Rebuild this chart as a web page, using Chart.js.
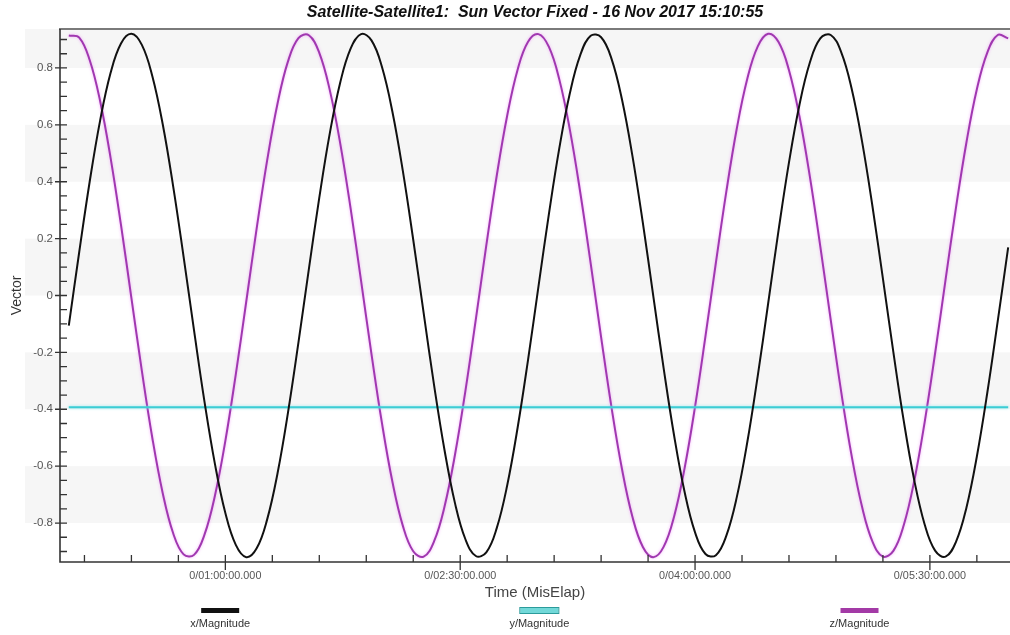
<!DOCTYPE html>
<html><head><meta charset="utf-8">
<style>html,body{margin:0;padding:0;background:#fff}#wrap{width:1010px;height:635px}</style>
<script src="https://cdn.jsdelivr.net/npm/chart.js@4.4.1/dist/chart.umd.min.js"></script>
</head><body><div id="wrap"><canvas id="c" width="1010" height="635"></canvas></div>
<script>
const chartTitle = 'Satellite-Satellite1:  Sun Vector Fixed - 16 Nov 2017 15:10:55';
const xAxisTitle = 'Time (MisElap)';
const yAxisTitle = 'Vector';
const seriesLabels = ['x/Magnitude', 'y/Magnitude', 'z/Magnitude'];

// elapsed time in minutes
const timeMinutes = [0,4,8,12,16,20,24,28,32,36,40,44,48,52,56,60,64,68,72,76,80,84,88,92,96,100,104,108,112,116,120,124,128,132,136,140,144,148,152,156,160,164,168,172,176,180,184,188,192,196,200,204,208,212,216,220,224,228,232,236,240,244,248,252,256,260,264,268,272,276,280,284,288,292,296,300,304,308,312,316,320,324,328,332,336,340,344,348,352,356,360];
const xMagnitude = [-0.106,0.153,0.400,0.615,0.782,0.886,0.920,0.881,0.772,0.602,0.384,0.136,-0.123,-0.373,-0.592,-0.765,-0.877,-0.920,-0.889,-0.788,-0.625,-0.412,-0.166,0.093,0.344,0.569,0.748,0.868,0.919,0.897,0.804,0.647,0.439,0.196,-0.062,-0.316,-0.544,-0.730,-0.857,-0.916,-0.903,-0.818,-0.668,-0.465,-0.226,0.032,0.287,0.519,0.710,0.845,0.913,0.908,0.832,0.689,0.491,0.255,-0.002,-0.258,-0.494,-0.691,-0.833,-0.909,-0.913,-0.844,-0.709,-0.517,-0.284,-0.029,0.229,0.468,0.670,0.819,0.904,0.916,0.856,0.728,0.542,0.313,0.059,-0.199,-0.442,-0.649,-0.805,-0.897,-0.918,-0.866,-0.746,-0.566,-0.342,-0.090,0.169];
const zMagnitude = [0.914,0.907,0.828,0.684,0.485,0.248,-0.009,-0.265,-0.500,-0.695,-0.836,-0.910,-0.912,-0.841,-0.704,-0.511,-0.277,-0.022,0.236,0.474,0.675,0.823,0.905,0.915,0.853,0.723,0.536,0.306,0.052,-0.206,-0.448,-0.654,-0.809,-0.899,-0.918,-0.864,-0.742,-0.560,-0.335,-0.083,0.176,0.421,0.632,0.794,0.892,0.919,0.874,0.759,0.584,0.363,0.113,-0.146,-0.394,-0.610,-0.778,-0.884,-0.920,-0.883,-0.776,-0.607,-0.391,-0.143,0.116,0.366,0.587,0.761,0.875,0.920,0.891,0.792,0.630,0.418,0.173,-0.086,-0.338,-0.563,-0.743,-0.865,-0.918,-0.898,-0.807,-0.652,-0.445,-0.203,0.055,0.309,0.538,0.725,0.854,0.916,0.904];
const yTimes = [0, 360];
const yMagnitude = [-0.393, -0.393];

const xMajorTickMinutes = [60, 150, 240, 330];
const xMajorTickLabels = ['0/01:00:00.000', '0/02:30:00.000', '0/04:00:00.000', '0/05:30:00.000'];
const xMinorTickMinutes = [6, 24, 42, 78, 96, 114, 132, 168, 186, 204, 222, 258, 276, 294, 312, 348];
const yMajorTicks = [-0.8, -0.6, -0.4, -0.2, 0, 0.2, 0.4, 0.6, 0.8];
const yMajorTickLabels = ['-0.8', '-0.6', '-0.4', '-0.2', '0', '0.2', '0.4', '0.6', '0.8'];
const yMinorTicks = [-0.9, -0.85, -0.75, -0.7, -0.65, -0.55, -0.5, -0.45, -0.35, -0.3, -0.25, -0.15, -0.1, -0.05, 0.05, 0.1, 0.15, 0.25, 0.3, 0.35, 0.45, 0.5, 0.55, 0.65, 0.7, 0.75, 0.85, 0.9];

const FONT = "'Liberation Sans', Arial, Helvetica, sans-serif";
const legendCenters = [0.218, 0.534, 0.851];

const bandsPlugin = {
  id: 'bands',
  beforeDraw(chart) {
    const { ctx, chartArea: a, scales: { y } } = chart;
    ctx.save();
    ctx.fillStyle = '#fff';
    ctx.fillRect(0, 0, chart.width, chart.height);
    const edges = [y.max, ...yMajorTicks.slice().reverse(), y.min];
    ctx.fillStyle = '#f6f6f6';
    for (let i = 0; i < edges.length - 1; i += 2) {
      const t = y.getPixelForValue(edges[i]);
      const b = y.getPixelForValue(edges[i + 1]);
      ctx.fillRect(a.left - 35, t, a.right - a.left + 35, b - t);
    }
    ctx.restore();
  }
};

const glowPlugin = {
  id: 'glow',
  beforeDatasetDraw(chart, args) {
    const ds = chart.data.datasets[args.index];
    chart.ctx.save();
    if (ds.glow) { chart.ctx.shadowColor = ds.glow; chart.ctx.shadowBlur = 3; }
  },
  afterDatasetDraw(chart) { chart.ctx.restore(); }
};

const axesPlugin = {
  id: 'axes',
  afterDatasetsDraw(chart) {
    const { ctx, chartArea: a, scales: { x, y } } = chart;
    ctx.save();
    ctx.strokeStyle = '#7a7a7a'; ctx.lineWidth = 2;
    ctx.beginPath(); ctx.moveTo(a.left - 1, a.top); ctx.lineTo(a.right, a.top); ctx.stroke();
    ctx.strokeStyle = '#333'; ctx.lineWidth = 1.6;
    ctx.beginPath(); ctx.moveTo(a.left, a.top); ctx.lineTo(a.left, a.bottom); ctx.lineTo(a.right, a.bottom); ctx.stroke();
    ctx.lineWidth = 1.3;
    ctx.beginPath();
    yMajorTicks.forEach(v => { const p = y.getPixelForValue(v); ctx.moveTo(a.left - 5, p); ctx.lineTo(a.left + 7, p); });
    yMinorTicks.forEach(v => { const p = y.getPixelForValue(v); ctx.moveTo(a.left, p); ctx.lineTo(a.left + 7, p); });
    xMajorTickMinutes.forEach(v => { const p = x.getPixelForValue(v); ctx.moveTo(p, a.bottom - 7); ctx.lineTo(p, a.bottom + 8); });
    xMinorTickMinutes.forEach(v => { const p = x.getPixelForValue(v); ctx.moveTo(p, a.bottom - 7); ctx.lineTo(p, a.bottom); });
    ctx.stroke();
    ctx.restore();
  }
};

const legendPlugin = {
  id: 'bottomLegend',
  afterDraw(chart) {
    const { ctx, chartArea: a } = chart;
    ctx.save();
    chart.data.datasets.forEach((ds, i) => {
      const cx = chart.width * legendCenters[i];
      const sy = a.bottom + 46;
      ctx.fillStyle = ds.swatchFill;
      ctx.fillRect(cx - 19, sy, 38, 5);
      if (ds.swatchStroke) { ctx.strokeStyle = ds.swatchStroke; ctx.lineWidth = 1; ctx.strokeRect(cx - 19.5, sy - 0.5, 39, 6); }
      ctx.fillStyle = '#333';
      ctx.font = '11px ' + FONT;
      ctx.textAlign = 'center'; ctx.textBaseline = 'middle';
      ctx.fillText(ds.label, cx, a.bottom + 62);
    });
    ctx.restore();
  }
};

new Chart(document.getElementById('c'), {
  type: 'line',
  data: {
    datasets: [
      { label: seriesLabels[0], data: timeMinutes.map((t, i) => ({ x: t, y: xMagnitude[i] })),
        borderColor: '#111', borderWidth: 2, swatchFill: '#111' },
      { label: seriesLabels[1], data: yTimes.map((t, i) => ({ x: t, y: yMagnitude[i] })),
        borderColor: '#3ccdd4', borderWidth: 2, glow: 'rgba(120,230,235,0.8)', swatchFill: '#72d8d8', swatchStroke: '#2b9b9b' },
      { label: seriesLabels[2], data: timeMinutes.map((t, i) => ({ x: t, y: zMagnitude[i] })),
        borderColor: '#a038b0', borderWidth: 2, glow: 'rgba(240,140,250,0.7)', swatchFill: '#a33aa6' }
    ]
  },
  options: {
    responsive: false, animation: false, devicePixelRatio: 1,
    layout: { padding: 0 },
    elements: { point: { radius: 0 }, line: { tension: 0.4, fill: false } },
    plugins: {
      legend: { display: false }, tooltip: { enabled: false },
      title: { display: true, fullSize: false, text: chartTitle, color: '#111',
        font: { family: FONT, size: 16, weight: 'bold', style: 'italic' }, padding: { top: 3, bottom: 6.8 } }
    },
    scales: {
      x: {
        type: 'linear', min: -3.37, max: 360.7,
        afterBuildTicks(s) { s.ticks = [...xMinorTickMinutes, ...xMajorTickMinutes].sort((p, q) => p - q).map(v => ({ value: v })); },
        afterFit(s) { s.height = 73; },
        grid: { display: false, drawTicks: false }, border: { display: false },
        ticks: { autoSkip: false, maxRotation: 0, padding: 8, color: '#555', font: { family: FONT, size: 10.8 },
          callback(v) { const i = xMajorTickMinutes.indexOf(v); return i >= 0 ? xMajorTickLabels[i] : ''; } },
        title: { display: true, text: xAxisTitle, color: '#444', font: { family: FONT, size: 15 }, padding: { top: 0, bottom: 33 } }
      },
      y: {
        type: 'linear', min: -0.937, max: 0.937,
        afterBuildTicks(s) { s.ticks = [...yMinorTicks, ...yMajorTicks].sort((p, q) => p - q).map(v => ({ value: v })); },
        afterFit(s) { s.width = 60; },
        grid: { display: false, drawTicks: false }, border: { display: false },
        ticks: { autoSkip: false, padding: 7, color: '#555', font: { family: FONT, size: 11.5 },
          callback(v) { const i = yMajorTicks.indexOf(v); return i >= 0 ? yMajorTickLabels[i] : ''; } },
        title: { display: true, text: yAxisTitle, color: '#333', font: { family: FONT, size: 14 }, padding: { top: 9, bottom: 0 } }
      }
    }
  },
  plugins: [bandsPlugin, glowPlugin, axesPlugin, legendPlugin]
});
</script></body></html>
